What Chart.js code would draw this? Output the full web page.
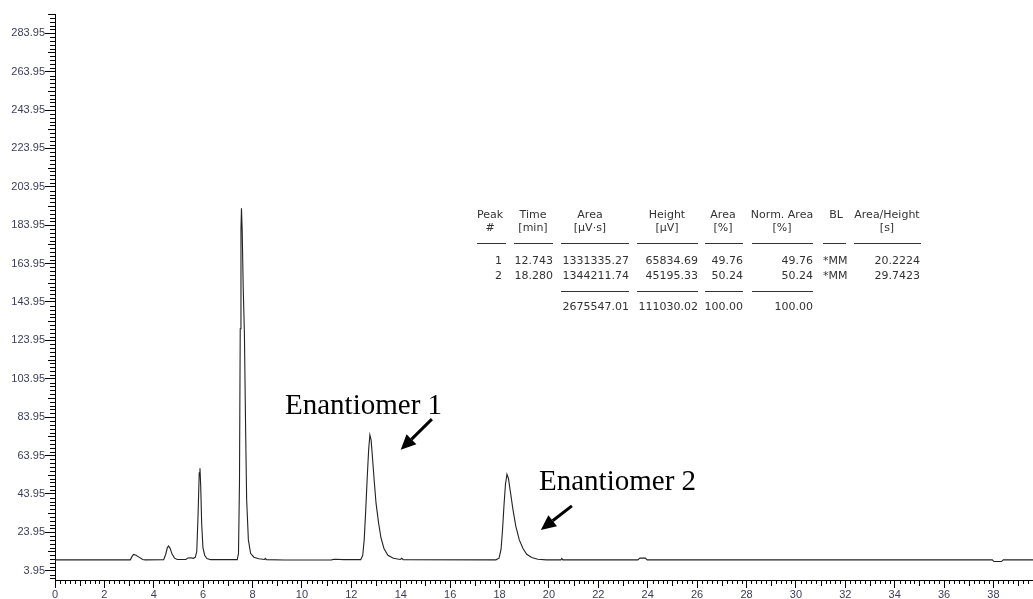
<!DOCTYPE html>
<html>
<head>
    <meta charset="UTF-8">
    <title>Chromatogram</title>
    <script src="https://cdn.jsdelivr.net/npm/chart.js@4.4.0/dist/chart.umd.min.js"></script>
    <style>
        body { margin: 0; background: #fff; }
        #wrap { position: relative; width: 1033px; height: 599px; overflow: hidden; }
        #chart { position: absolute; left: 0; top: 0; }
        .t { position: absolute; font: 11px "DejaVu Sans", sans-serif; color: #333; white-space: nowrap; line-height: 12px; }
        .rule { position: absolute; height: 1px; background: #333; }
        .note { position: absolute; font: 29px "Liberation Serif", "Times New Roman", serif; color: #000; line-height: 29px; white-space: nowrap; }
    </style>
</head>
<body>
<div id="wrap">
    <canvas id="chart" width="1033" height="599"></canvas>
</div>
<script>
// trace: retention time (min) and detector signal
const times = [0, 3.05, 3.12, 3.18, 3.28, 3.40, 3.55, 3.65, 4.40, 4.48, 4.55, 4.60, 4.66, 4.74, 4.84, 4.95,
    5.30, 5.38, 5.50, 5.60, 5.68, 5.74, 5.79, 5.84, 5.87, 5.90, 5.94, 5.99, 6.06, 6.15, 6.30,
    7.38, 7.43, 7.47, 7.50, 7.53, 7.55, 7.58, 7.62, 7.67, 7.72, 7.76, 7.83, 7.92, 8.05, 8.25,
    8.48, 8.52, 8.56, 9.30, 9.60, 11.20, 11.30, 11.70,
    12.38, 12.46, 12.52, 12.58, 12.64, 12.70, 12.75, 12.80, 12.86, 12.93, 13.00, 13.10, 13.20, 13.32, 13.48, 13.70, 13.98, 14.04, 14.10,
    17.85, 17.98, 18.06, 18.12, 18.18, 18.24, 18.30, 18.36, 18.44, 18.54, 18.66, 18.80, 18.95, 19.10, 19.30, 19.55, 19.90,
    20.48, 20.52, 20.56, 23.60, 23.68, 23.90, 23.98, 37.95, 38.02, 38.32, 38.40, 39.60];
const signal = [9.6, 9.6, 11.4, 12.4, 12.0, 11.0, 9.8, 9.6, 9.7, 12.4, 16.0, 16.8, 15.6, 12.6, 10.5, 9.8,
    9.8, 10.6, 10.7, 10.4, 10.9, 14, 32, 55, 57.3, 48, 28, 16, 12, 10.3, 9.7,
    9.7, 13, 50, 130, 182, 192.8, 181, 152, 127, 76, 41, 20, 13, 11, 10.2,
    9.8, 10.4, 9.7, 9.5, 9.5, 9.6, 9.9, 9.7,
    9.7, 12, 20, 35, 52, 67, 74.7, 72, 62, 50, 39, 29, 21, 15.5, 12, 10.4, 9.8, 10.4, 9.7,
    9.6, 10.5, 15, 25, 38, 49, 54.2, 52, 45, 36, 27, 20, 15.5, 12.5, 10.8, 9.9, 9.6,
    9.6, 10.3, 9.6, 9.6, 10.5, 10.5, 9.6, 9.6, 8.7, 8.7, 9.6, 9.6];

const xTicks = [0, 2, 4, 6, 8, 10, 12, 14, 16, 18, 20, 22, 24, 26, 28, 30, 32, 34, 36, 38];
const yTicks = [3.95, 23.95, 43.95, 63.95, 83.95, 103.95, 123.95, 143.95, 163.95, 183.95, 203.95, 223.95, 243.95, 263.95, 283.95];
const yTickLabels = ['3.95', '23.95', '43.95', '63.95', '83.95', '103.95', '123.95', '143.95', '163.95', '183.95', '203.95', '223.95', '243.95', '263.95', '283.95'];

// results table
const tableHead1 = ['Peak', 'Time', 'Area', 'Height', 'Area', 'Norm. Area', 'BL', 'Area/Height'];
const tableHead2 = ['#', '[min]', '[µV·s]', '[µV]', '[%]', '[%]', '', '[s]'];
const peakRows = [
    ['1', '12.743', '1331335.27', '65834.69', '49.76', '49.76', '*MM', '20.2224'],
    ['2', '18.280', '1344211.74', '45195.33', '50.24', '50.24', '*MM', '29.7423']
];
const totalsRow = ['', '', '2675547.01', '111030.02', '100.00', '100.00', '', ''];

// annotations: label text and arrow tail/tip in data units
const noteLabels = ['Enantiomer 1', 'Enantiomer 2'];
const arrows = [
    { from: [15.26, 82.9], to: [14.0, 66.9] },
    { from: [20.93, 37.7], to: [19.67, 25.2] }
];

// layout of the table columns (pixels)
const headCenters = [490, 533, 590, 667, 723, 782, 836, 887];
const segs = [[477, 506], [514, 553], [561, 629], [637, 698], [705, 743], [752, 813], [823, 846], [854, 921]];
const dataRight = [502, 553, 629, 698, 743, 813, 823, 920];

const wrap = document.getElementById('wrap');
function place(text, x, y, align, cls) {
    const d = document.createElement('div');
    d.className = cls || 't';
    d.textContent = text;
    d.style.left = x + 'px';
    d.style.top = y + 'px';
    const tx = align === 'right' ? '-100%' : align === 'center' ? '-50%' : '0';
    d.style.transform = 'translate(' + tx + ', -50%)';
    wrap.appendChild(d);
}
function rule(x0, x1, y) {
    const d = document.createElement('div');
    d.className = 'rule';
    d.style.left = x0 + 'px';
    d.style.width = (x1 - x0) + 'px';
    d.style.top = y + 'px';
    wrap.appendChild(d);
}

tableHead1.forEach((s, i) => place(s, headCenters[i], 215, 'center'));
tableHead2.forEach((s, i) => { if (s) place(s, headCenters[i], 228, 'center'); });
segs.forEach(s => rule(s[0], s[1], 243));
peakRows.forEach((row, r) => {
    row.forEach((s, i) => place(s, dataRight[i], 261 + r * 15, i === 6 ? 'left' : 'right'));
});
[2, 3, 4, 5].forEach(i => rule(segs[i][0], segs[i][1], 291));
totalsRow.forEach((s, i) => { if (s) place(s, dataRight[i], 307, 'right'); });

place(noteLabels[0], 285, 404, 'left', 'note');
place(noteLabels[1], 539, 480, 'left', 'note');

const extraTicks = {
    id: 'extraTicks',
    afterDraw(chart) {
        const ctx = chart.ctx, xs = chart.scales.x, ys = chart.scales.y;
        ctx.save();
        ctx.strokeStyle = '#000';
        ctx.lineWidth = 1;
        ctx.beginPath();
        for (let k = 1; k * 0.2 <= xs.max + 1e-9; k++) {
            if (k % 10 === 0) continue;
            const px = Math.round(xs.getPixelForValue(k * 0.2)) + 0.5;
            const len = k % 5 === 0 ? 6 : 4;
            ctx.moveTo(px, xs.top);
            ctx.lineTo(px, xs.top + len);
        }
        for (let k = -2; k < 150; k++) {
            if (k % 10 === 0) continue;
            const v = 3.95 + 2 * k;
            if (v < ys.min || v > ys.max) continue;
            const py = Math.round(ys.getPixelForValue(v)) + 0.5;
            const len = k % 5 === 0 ? 7 : 5;
            ctx.moveTo(ys.right, py);
            ctx.lineTo(ys.right - len, py);
        }
        ctx.stroke();

        // arrows
        ctx.fillStyle = '#000';
        ctx.lineWidth = 3;
        arrows.forEach(a => {
            const x0 = xs.getPixelForValue(a.from[0]), y0 = ys.getPixelForValue(a.from[1]);
            const x1 = xs.getPixelForValue(a.to[0]), y1 = ys.getPixelForValue(a.to[1]);
            const ang = Math.atan2(y1 - y0, x1 - x0);
            const hl = 15, hw = 7;
            const bx = x1 - hl * Math.cos(ang), by = y1 - hl * Math.sin(ang);
            ctx.beginPath();
            ctx.moveTo(x0, y0);
            ctx.lineTo(bx, by);
            ctx.stroke();
            ctx.beginPath();
            ctx.moveTo(x1, y1);
            ctx.lineTo(bx + hw * Math.sin(ang), by - hw * Math.cos(ang));
            ctx.lineTo(bx - hw * Math.sin(ang), by + hw * Math.cos(ang));
            ctx.closePath();
            ctx.fill();
        });
        ctx.restore();
    }
};

const tickFont = { family: 'Liberation Sans, Arial, sans-serif', size: 11 };
new Chart(document.getElementById('chart'), {
    type: 'line',
    data: {
        datasets: [{
            data: times.map((t, i) => ({ x: t, y: signal[i] })),
            borderColor: '#222',
            borderWidth: 1.1,
            pointRadius: 0,
            tension: 0,
            fill: false
        }]
    },
    options: {
        responsive: false,
        animation: false,
        layout: { padding: { top: 14, right: 0, left: 0, bottom: 0 } },
        plugins: { legend: { display: false }, tooltip: { enabled: false } },
        scales: {
            x: {
                type: 'linear',
                min: 0,
                max: 39.6,
                afterBuildTicks: axis => { axis.ticks = xTicks.map(v => ({ value: v })); },
                afterFit: axis => { axis.height = 19; },
                grid: { drawOnChartArea: false, tickLength: 8, color: '#000', tickColor: '#000' },
                border: { color: '#000', width: 1 },
                ticks: { color: '#3c3c5a', font: tickFont, padding: 0, maxRotation: 0, autoSkip: false }
            },
            y: {
                type: 'linear',
                min: -0.9,
                max: 294,
                afterBuildTicks: axis => { axis.ticks = yTicks.map(v => ({ value: v })); },
                afterFit: axis => { axis.width = 55; },
                grid: { drawOnChartArea: false, tickLength: 10, color: '#000', tickColor: '#000' },
                border: { color: '#000', width: 1 },
                ticks: {
                    color: '#3c3c5a',
                    font: tickFont,
                    padding: 0,
                    autoSkip: false,
                    callback: (v, i) => yTickLabels[i]
                }
            }
        }
    },
    plugins: [extraTicks]
});
</script>
</body>
</html>
